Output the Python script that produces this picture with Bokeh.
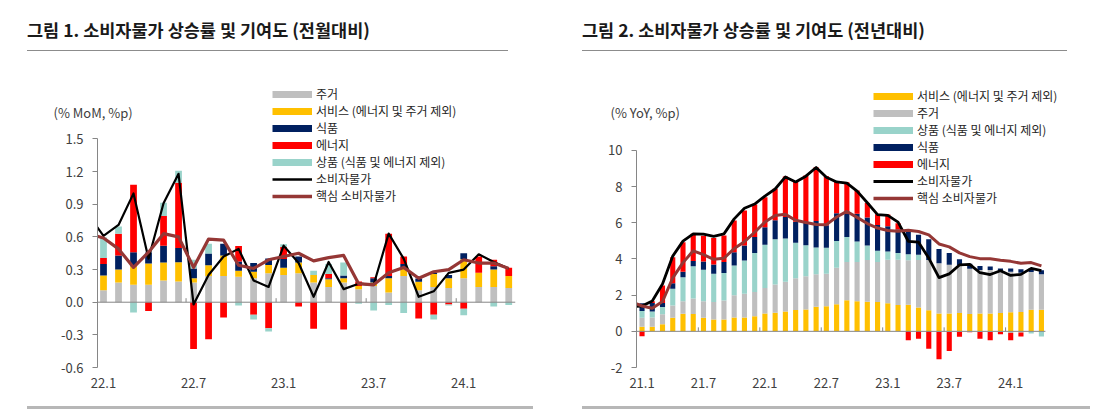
import numpy as np
from bokeh.plotting import figure
from bokeh.models import (Range1d, FixedTicker, PrintfTickFormatter, Legend,
                          LegendItem, Title, Div)
from bokeh.layouts import row, column
from bokeh.embed import file_html
from bokeh.resources import INLINE

FONT = "Noto Sans CJK KR"

# ---------------- Figure 1 : MoM ----------------
mom_months = ["22.1", "22.2", "22.3", "22.4", "22.5", "22.6", "22.7", "22.8", "22.9", "22.10",
              "22.11", "22.12", "23.1", "23.2", "23.3", "23.4", "23.5", "23.6", "23.7", "23.8",
              "23.9", "23.10", "23.11", "23.12", "24.1", "24.2", "24.3", "24.4"]
mom_housing = [0.11, 0.18, 0.16, 0.16, 0.20, 0.19, 0.18, 0.24, 0.24, 0.235, 0.22, 0.265, 0.25, 0.265,
               0.18, 0.14, 0.18, 0.12, 0.15, 0.09, 0.24, 0.11, 0.14, 0.13, 0.22, 0.14, 0.14, 0.13]
mom_services = [0.135, 0.12, 0.17, 0.196, 0.165, 0.177, 0.04, 0.10, 0.19, 0.055, 0.06, 0.077, 0.067, 0.10,
                0.07, 0.07, 0.04, 0.03, 0.03, 0.13, 0.07, 0.077, 0.12, 0.09, 0.175, 0.13, 0.16, 0.11]
mom_food = [0.107, 0.13, 0.13, 0.10, 0.153, 0.13, 0.09, 0.107, 0.107, 0.083, 0.08, 0.06, 0.08, 0.055,
            0.0, 0.01, 0.025, 0.0, 0.04, 0.02, 0.04, 0.03, 0.01, 0.03, 0.055, 0.0, 0.03, 0.0]
mom_energy = [0.055, 0.20, 0.62, -0.08, 0.275, 0.60, -0.43, -0.34, -0.14, 0.144, -0.115, -0.24, 0.11, -0.04,
              -0.245, 0.04, -0.25, 0.04, 0.01, 0.39, 0.07, -0.15, -0.116, -0.02, -0.06, 0.15, 0.06, 0.077]
mom_goods = [0.19, 0.065, -0.095, 0.0, 0.12, 0.11, 0.08, 0.09, 0.0, -0.03, -0.045, -0.03, 0.025, 0.0,
             0.04, 0.09, 0.12, -0.015, -0.077, -0.025, -0.10, 0.0, -0.043, -0.01, -0.06, 0.0, -0.04, -0.025]
mom_cpi_prev = 0.80   # 21.12, cut off at the axis
mom_cpi = [0.61, 0.71, 1.00, 0.40, 0.91, 1.18, -0.02, 0.25, 0.42, 0.49, 0.20, 0.14, 0.52, 0.36,
           0.05, 0.37, 0.12, 0.17, 0.16, 0.63, 0.40, 0.05, 0.10, 0.27, 0.30, 0.44, 0.37, 0.31]
mom_core_prev = 0.63
mom_core = [0.59, 0.49, 0.32, 0.46, 0.63, 0.60, 0.32, 0.58, 0.57, 0.34, 0.31, 0.39, 0.42, 0.45,
            0.38, 0.41, 0.43, 0.17, 0.16, 0.27, 0.32, 0.22, 0.28, 0.30, 0.39, 0.36, 0.36, 0.31]
mom_tick_labels = ["22.1", "22.7", "23.1", "23.7", "24.1"]
mom_yticks = [-0.6, -0.3, 0.0, 0.3, 0.6, 0.9, 1.2, 1.5]

# ---------------- Figure 2 : YoY ----------------
yoy_months = ["21.1", "21.2", "21.3", "21.4", "21.5", "21.6", "21.7", "21.8", "21.9", "21.10", "21.11", "21.12",
              "22.1", "22.2", "22.3", "22.4", "22.5", "22.6", "22.7", "22.8", "22.9", "22.10", "22.11", "22.12",
              "23.1", "23.2", "23.3", "23.4", "23.5", "23.6", "23.7", "23.8", "23.9", "23.10", "23.11", "23.12",
              "24.1", "24.2", "24.3", "24.4"]
yoy_services = [0.25, 0.26, 0.39, 0.75, 0.97, 0.96, 0.75, 0.66, 0.66, 0.76, 0.76, 0.84,
                0.98, 1.03, 1.09, 1.18, 1.21, 1.36, 1.39, 1.50, 1.72, 1.66, 1.64, 1.62,
                1.55, 1.46, 1.47, 1.32, 1.16, 0.99, 0.99, 1.02, 0.96, 0.98, 0.98, 1.01,
                1.05, 1.07, 1.19, 1.20]
yoy_housing = [0.50, 0.50, 0.55, 0.68, 0.70, 0.86, 0.92, 0.96, 1.05, 1.23, 1.32, 1.34,
               1.42, 1.56, 1.65, 1.75, 1.84, 1.80, 1.80, 2.02, 2.11, 2.17, 2.31, 2.22,
               2.41, 2.50, 2.46, 2.63, 2.78, 2.78, 2.69, 2.65, 2.50, 2.41, 2.41, 2.33,
               2.24, 2.17, 2.09, 1.96]
yoy_goods = [0.38, 0.33, 0.40, 0.92, 1.32, 1.78, 1.73, 1.56, 1.51, 1.65, 1.84, 2.15,
             2.39, 2.50, 2.39, 1.97, 1.71, 1.47, 1.43, 1.47, 1.38, 1.14, 0.80, 0.61,
             0.46, 0.37, 0.33, 0.28, 0.0, -0.03, -0.03, -0.02, -0.03, -0.04, -0.04, -0.03,
             -0.08, -0.07, -0.12, -0.28]
yoy_food = [0.42, 0.48, 0.22, 0.31, 0.31, 0.29, 0.46, 0.51, 0.61, 0.74, 0.83, 0.88,
            0.97, 1.05, 1.19, 1.16, 1.29, 1.47, 1.25, 1.54, 1.43, 1.53, 1.55, 1.43,
            1.39, 1.30, 1.24, 1.11, 1.15, 0.78, 0.65, 0.31, 0.28, 0.22, 0.19, 0.13,
            0.19, 0.19, 0.19, 0.22]
yoy_energy = [-0.27, 0.10, 0.97, 1.43, 1.62, 1.51, 1.43, 1.47, 1.47, 1.75, 1.93, 1.80,
              1.65, 1.75, 2.24, 2.20, 2.57, 2.98, 2.70, 1.76, 1.60, 1.29, 0.80, 0.60,
              0.65, 0.35, -0.50, -0.41, -0.96, -1.52, -1.06, -0.28, -0.02, -0.37, -0.46, -0.13,
              -0.41, -0.22, 0.0, 0.0]
yoy_cpi_prev = 1.36   # 20.12, cut off at the axis
yoy_cpi = [1.40, 1.68, 2.62, 4.16, 4.99, 5.39, 5.37, 5.25, 5.39, 6.22, 6.81, 7.04,
           7.48, 7.87, 8.54, 8.26, 8.58, 9.06, 8.52, 8.26, 8.20, 7.75, 7.11, 6.45,
           6.41, 6.04, 4.98, 4.93, 4.05, 2.97, 3.18, 3.67, 3.70, 3.24, 3.14, 3.35,
           3.09, 3.15, 3.48, 3.36]
yoy_core_prev = 1.62
yoy_core = [1.40, 1.28, 1.65, 2.96, 3.80, 4.45, 4.24, 3.98, 4.04, 4.58, 4.96, 5.48,
            6.04, 6.41, 6.47, 6.14, 6.02, 5.91, 5.90, 6.32, 6.63, 6.30, 5.96, 5.71,
            5.58, 5.54, 5.59, 5.52, 5.33, 4.83, 4.67, 4.34, 4.13, 4.02, 4.01, 3.93,
            3.87, 3.76, 3.80, 3.62]
yoy_tick_labels = ["21.1", "21.7", "22.1", "22.7", "23.1", "23.7", "24.1"]
yoy_yticks = [-2, 0, 2, 4, 6, 8, 10]

# ---------------- styles ----------------
C_GREY = "#BFBFBF"
C_YELLOW = "#FFC000"
C_NAVY = "#002060"
C_RED = "#FF0000"
C_TEAL = "#99D3CA"
C_BLACK = "#000000"
C_BROWN = "#953735"
AX = "#868686"
TXT = "#404040"
NAN = float("nan")

L_HOUSING = "주거"
L_SERV = "서비스 (에너지 및 주거 제외)"
L_FOOD = "식품"
L_ENERGY = "에너지"
L_GOODS = "상품 (식품 및 에너지 제외)"
L_CPI = "소비자물가"
L_CORE = "핵심 소비자물가"


def stacked(p, comps, bar_w):
    n = len(comps[0][0])
    x = np.arange(n)
    pos = np.zeros(n)
    neg = np.zeros(n)
    for vals, col in comps:
        v = np.array(vals, dtype=float)
        bottom = np.where(v >= 0, pos, neg + v)
        top = np.where(v >= 0, pos + v, neg)
        pos = pos + np.where(v >= 0, v, 0)
        neg = neg + np.where(v < 0, v, 0)
        p.vbar(x=x, width=bar_w, bottom=bottom, top=top, fill_color=col, line_color=None)


def build(months, comps, cpi_prev, cpi, core_prev, core, tick_labels, yticks, yfmt,
          width, mb_left, mb_right, x_range, x_end_pad, y_range, bar_w, tick_len,
          cpi_w, core_w, legend_order, legend_loc, ylabel, ylabel_off):
    p = figure(width=width, height=353, output_backend="svg", toolbar_location=None,
               x_range=Range1d(*x_range), y_range=Range1d(*y_range),
               min_border_left=mb_left, min_border_right=mb_right,
               min_border_top=30, min_border_bottom=38, margin=(0, 0, 0, 0))
    p.outline_line_color = None
    p.xgrid.visible = False
    p.ygrid.visible = False
    p.background_fill_color = "white"
    p.border_fill_color = "white"

    stacked(p, comps, bar_w)

    n = len(months)
    # category axis line at zero, with boundary ticks every six months
    x_lo = x_range[0]
    x_hi = n - 1 + x_end_pad
    p.segment(x0=[x_lo], y0=[0], x1=[x_hi], y1=[0], line_color=AX, line_width=1)
    bx = [6 * k - 0.5 for k in range(1, (n - 1) // 6 + 1)]
    p.segment(x0=bx, y0=[0] * len(bx), x1=bx, y1=[tick_len] * len(bx), line_color=AX, line_width=1)

    xl = np.arange(-1, n)
    p.line(x=xl, y=[cpi_prev] + list(cpi), line_color=C_BLACK, line_width=cpi_w, line_join="round")
    p.line(x=xl, y=[core_prev] + list(core), line_color=C_BROWN, line_width=core_w, line_join="round")

    # legend using stand-in renderers (nothing visible in the plot)
    items = []
    for lab, col, lw in legend_order:
        r = p.line(x=[NAN], y=[NAN], line_color=col, line_width=lw, line_cap="butt")
        items.append(LegendItem(label=lab, renderers=[r]))
    leg = Legend(items=items, location=legend_loc, padding=0, margin=0, spacing=0,
                 glyph_width=40, glyph_height=16, label_height=16, label_standoff=4,
                 border_line_color=None, background_fill_alpha=0,
                 label_text_font=FONT, label_text_font_size="12px", label_text_color="#262626")
    p.add_layout(leg, "center")

    # axes
    p.yaxis.bounds = (yticks[0], yticks[-1])
    p.yaxis.ticker = FixedTicker(ticks=yticks)
    p.yaxis.formatter = PrintfTickFormatter(format=yfmt)
    p.yaxis.axis_line_color = AX
    p.yaxis.major_tick_line_color = AX
    p.yaxis.major_tick_out = 5
    p.yaxis.major_tick_in = 0
    p.yaxis.minor_tick_line_color = None
    p.yaxis.major_label_standoff = 9
    p.yaxis.major_label_text_font = FONT
    p.yaxis.major_label_text_font_size = "13px"
    p.yaxis.major_label_text_color = TXT

    tpos = [months.index(t) for t in tick_labels]
    p.xaxis.ticker = FixedTicker(ticks=tpos)
    p.xaxis.major_label_overrides = {i: t for i, t in zip(tpos, tick_labels)}
    p.xaxis.axis_line_color = None
    p.xaxis.major_tick_line_color = None
    p.xaxis.minor_tick_line_color = None
    p.xaxis.major_tick_out = 0
    p.xaxis.major_label_standoff = 10
    p.xaxis.major_label_text_font = FONT
    p.xaxis.major_label_text_font_size = "13px"
    p.xaxis.major_label_text_color = TXT

    # unit label above the value axis (side panel, so it is not clipped to the frame)
    p.add_layout(Title(text=ylabel, align="left", offset=ylabel_off, standoff=-78,
                       vertical_align="bottom", text_font=FONT, text_font_size="13px",
                       text_font_style="normal", text_color=TXT), "above")
    return p


p1 = build(mom_months,
           [(mom_housing, C_GREY), (mom_services, C_YELLOW), (mom_food, C_NAVY),
            (mom_energy, C_RED), (mom_goods, C_TEAL)],
           mom_cpi_prev, mom_cpi, mom_core_prev, mom_core, mom_tick_labels, mom_yticks, "%.1f",
           540, 89, 33, (-0.4, 27.45), 0.45, (-0.6, 2.019), 0.45, 0.037, 2.2, 3.2,
           [(L_HOUSING, C_GREY, 7), (L_SERV, C_YELLOW, 7), (L_FOOD, C_NAVY, 7),
            (L_ENERGY, C_RED, 7), (L_GOODS, C_TEAL, 7), (L_CPI, C_BLACK, 2.6), (L_CORE, C_BROWN, 3.6)],
           (175, 163), "(% MoM, %p)", -44)

p2 = build(yoy_months,
           [(yoy_services, C_YELLOW), (yoy_housing, C_GREY), (yoy_goods, C_TEAL),
            (yoy_food, C_NAVY), (yoy_energy, C_RED)],
           yoy_cpi_prev, yoy_cpi, yoy_core_prev, yoy_core, yoy_tick_labels, yoy_yticks, "%d",
           551, 88, 29, (-0.54, 41.84), 0.39, (-2, 13.76), 0.5, 0.22, 2.8, 3.0,
           [(L_SERV, C_YELLOW, 7), (L_HOUSING, C_GREY, 7), (L_GOODS, C_TEAL, 7),
            (L_FOOD, C_NAVY, 7), (L_ENERGY, C_RED, 7), (L_CPI, C_BLACK, 3.2), (L_CORE, C_BROWN, 3.4)],
           (237, 161), "(% YoY, %p)", -26)


def title_div(text, w, ml, lw):
    html = ('<div style="font-family:\'Noto Sans CJK KR\';font-weight:bold;font-size:17.5px;'
            'color:#1a1a1a;margin-left:%dpx;width:%dpx;height:43px;box-sizing:border-box;'
            'padding-top:10px;line-height:23px;border-bottom:1px solid #8c8c8c;white-space:nowrap;">%s</div>'
            % (ml, lw, text))
    return Div(text=html, width=w, height=44, margin=(0, 0, 0, 0))


def rule_div(ml, lw):
    return Div(text="", width=lw, height=3, margin=(1, 0, 0, ml),
               styles={"background-color": "#b7b7b7"})


left = column(title_div("그림 1. 소비자물가 상승률 및 기여도 (전월대비)", 540, 19, 481), p1,
              rule_div(19, 506), spacing=0)
right = column(title_div("그림 2. 소비자물가 상승률 및 기여도 (전년대비)", 551, 34, 485), p2,
               rule_div(34, 508), spacing=0)
page = row(left, right, spacing=0, margin=(8, 0, 0, 8))

open("out.html", "w").write(file_html(page, INLINE))
